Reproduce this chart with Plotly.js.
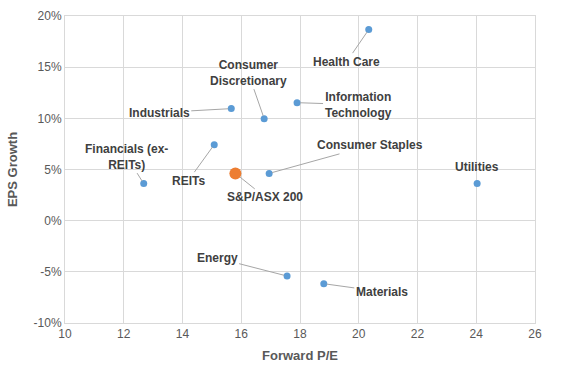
<!DOCTYPE html>
<html>
<head>
<meta charset="utf-8">
<script src="https://cdn.plot.ly/plotly-3.0.1.min.js"></script>
<style>html,body{margin:0;padding:0;background:#fff;}#chart{width:561px;height:375px;}</style>
</head>
<body>
<div id="chart"></div>
<script>
const sectors = ["Health Care","Information Technology","Industrials","Consumer Discretionary","REITs","Financials (ex-REITs)","Consumer Staples","Utilities","Energy","Materials"];
const labelText = ["Health Care","Information<br>Technology","Industrials","Consumer<br>Discretionary","REITs","Financials (ex-<br>REITs)","Consumer Staples","Utilities","Energy","Materials"];
const forwardPE = [20.34, 17.9, 15.66, 16.78, 15.08, 12.68, 16.95, 24.03, 17.56, 18.81];
const epsGrowth = [0.1867, 0.1153, 0.1095, 0.0997, 0.0743, 0.0362, 0.0462, 0.0362, -0.0541, -0.0616];
const indexName = ["S&P/ASX 200"];
const indexPE = [15.80];
const indexEPS = [0.0462];
const yTickVals = [-0.10, -0.05, 0, 0.05, 0.10, 0.15, 0.20];
const yTickText = ["-10%", "-5%", "0%", "5%", "10%", "15%", "20%"];

// label offsets in pixels (layout only)
const offsets = [[-22,32],[61,2],[-72,4],[-16,-46],[-26,36],[-17,-27],[101,-28],[0,-17],[-70,-18],[58,8]];
const indexOffset = [30,24];

const annFont = {family:"Liberation Sans, Arial, sans-serif", size:12, color:"#404040", weight:"bold"};
const annotations = sectors.map((s,i)=>({
  x: forwardPE[i], y: epsGrowth[i], xref:"x", yref:"y",
  text: "<b>"+labelText[i]+"</b>", showarrow:true, arrowhead:0, arrowwidth:1,
  arrowcolor: s==="Utilities" ? "rgba(0,0,0,0)" : "#A6A6A6",
  ax: offsets[i][0], ay: offsets[i][1], standoff:3,
  font: annFont, align:"center"
}));
annotations.push({
  x: indexPE[0], y: indexEPS[0], xref:"x", yref:"y",
  text:"<b>"+indexName[0]+"</b>", showarrow:true, arrowhead:0, arrowwidth:1, arrowcolor:"#A6A6A6",
  ax: indexOffset[0], ay: indexOffset[1], standoff:6, font: annFont
});

const traces = [
  {x: forwardPE, y: epsGrowth, text: sectors, mode:"markers", type:"scatter",
   marker:{color:"#5B9BD5", size:7}, hoverinfo:"text"},
  {x: indexPE, y: indexEPS, text: indexName, mode:"markers", type:"scatter",
   marker:{color:"#ED7D31", size:12}, hoverinfo:"text"}
];

const tickFont = {family:"Liberation Sans, Arial, sans-serif", size:12, color:"#595959"};
const layout = {
  width:561, height:375,
  margin:{l:65, r:26, t:16, b:52},
  paper_bgcolor:"#fff", plot_bgcolor:"#fff",
  showlegend:false,
  xaxis:{range:[10,26], dtick:2, tick0:10, showgrid:true, gridcolor:"#D9D9D9", zeroline:false,
    showline:true, mirror:true, linecolor:"#D9D9D9", ticks:"", tickfont:tickFont,
    title:{text:"<b>Forward P/E</b>", font:{family:"Liberation Sans, Arial, sans-serif", size:13, color:"#595959"}, standoff:10}},
  yaxis:{range:[-0.10,0.20], tickmode:"array", tickvals:yTickVals, ticktext:yTickText, showgrid:true, gridcolor:"#D9D9D9", zeroline:false,
    showline:true, mirror:true, linecolor:"#D9D9D9", ticks:"", tickfont:tickFont, ticksuffix:"  ",
    title:{text:"<b>EPS Growth</b>", font:{family:"Liberation Sans, Arial, sans-serif", size:13, color:"#595959"}, standoff:13}},
  annotations: annotations
};
Plotly.newPlot("chart", traces, layout, {displayModeBar:false, staticPlot:true});
</script>
</body>
</html>
